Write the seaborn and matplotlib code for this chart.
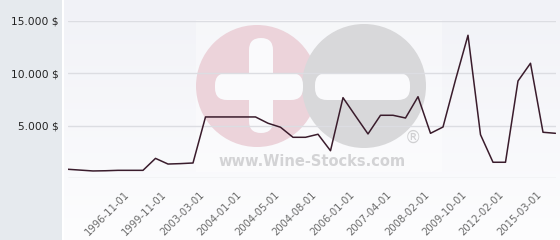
import numpy as np
import pandas as pd
import matplotlib
matplotlib.use("Agg")
import matplotlib.pyplot as plt
import seaborn as sns
from matplotlib.patches import Circle, FancyBboxPatch, Rectangle
from matplotlib.transforms import Affine2D, ScaledTranslation
from matplotlib.ticker import FuncFormatter
from matplotlib.colors import LinearSegmentedColormap

# ---- data ----
prices = [860, 780, 700, 720, 760, 760, 760, 1900, 1360, 1400,
          1460, 5850, 5850, 5850, 5850, 5850, 5250, 4870, 3910, 3910,
          4200, 2630, 7690, 5950, 4230, 6010, 6010, 5750, 7780, 4290,
          4890, 9380, 13640, 4160, 1530, 1530, 9280, 10970, 4390, 4290]
tick_positions = [4, 7, 10, 13, 16, 19, 22, 25, 28, 31, 34, 37]
tick_labels = ["1996-11-01", "1999-11-01", "2003-03-01", "2004-01-01",
               "2004-05-01", "2004-08-01", "2006-01-01", "2007-04-01",
               "2008-02-01", "2009-10-01", "2012-02-01", "2015-03-01"]
y_ticks = [0, 5000, 10000, 15000]

df = pd.DataFrame({"idx": np.arange(len(prices)), "price": prices})

sns.set_theme(style="white")
plt.rcParams["font.family"] = ["DejaVu Sans"]

W, H = 560, 240
fig = plt.figure(figsize=(W / 100, H / 100), dpi=100)
fig.patch.set_facecolor("#f4f5f9")

# pixel transform (y measured from top)
px = Affine2D().scale(1, -1).translate(0, H)

# background gradient for chart region
bg = fig.add_axes([63 / W, 0, 1 - 63 / W, 1], zorder=-3)
grad = np.linspace(0, 1, 256).reshape(-1, 1)
cm = LinearSegmentedColormap.from_list("g", ["#f1f2f7", "#fdfdfe"])
bg.imshow(grad, aspect="auto", cmap=cm, extent=[0, 1, 0, 1], origin="upper")
bg.set_axis_off()

# left grey panel
fig.add_artist(Rectangle((0, 0), 62, H, transform=px, facecolor="#e6eaee",
                         edgecolor="none", zorder=-2))
fig.add_artist(Rectangle((62, 0), 1.5, H, transform=px, facecolor="#ffffff",
                         edgecolor="none", zorder=-2))

# watermark
fig.add_artist(Rectangle((196, 20), 246, 152, transform=px, facecolor="#ffffff",
                         alpha=0.35, edgecolor="none", zorder=-2))
fig.add_artist(Circle((257, 86), 61, transform=px, facecolor="#ecd3da",
                      edgecolor="none", zorder=-1))
fig.add_artist(Circle((364, 86), 62, transform=px, facecolor="#d8d8da",
                      edgecolor="none", zorder=-1))
for (x0, y0, w, h) in [(249, 38, 24, 95), (215, 73, 88, 27), (315, 73, 95, 27)]:
    fig.add_artist(FancyBboxPatch((x0, y0), w, h,
                                  boxstyle="round,pad=0,rounding_size=12",
                                  transform=px, facecolor="#fafafc",
                                  edgecolor="none", zorder=-1))
fig.text(312 / W, 1 - 161 / H, "www.Wine-Stocks.com", ha="center", va="center",
         fontsize=10.5, fontweight="bold", color="#d3d3d5", zorder=-1)
fig.text(413 / W, 1 - 138 / H, "®", ha="center", va="center",
         fontsize=12, color="#d0d0d2", zorder=-1)

# main axes
ax_left, ax_right = 68 / W, 555.5 / W
ax_bottom, ax_top = 1 - 178.3 / H, 1 - 21 / H
ax = fig.add_axes([ax_left, ax_bottom, ax_right - ax_left, ax_top - ax_bottom], zorder=1)
ax.set_facecolor("none")

sns.lineplot(data=df, x="idx", y="price", ax=ax, color="#3a1c2c", linewidth=1.1)

ax.set_xlim(0, len(prices) - 1)
ax.set_ylim(0, 15000)
ax.set_yticks(y_ticks)
ax.yaxis.set_major_formatter(FuncFormatter(
    lambda v, p: "" if v == 0 else f"{int(v):,} $".replace(",", ".")))
ax.grid(axis="y", color="#dcdde2", linewidth=1)
ax.grid(axis="x", visible=False)
for s in ax.spines.values():
    s.set_visible(False)
ax.set_xticks(tick_positions)
ax.set_xticklabels(tick_labels, rotation=45, ha="right", rotation_mode="anchor")
ax.tick_params(axis="x", length=0, pad=8, labelsize=7.2, labelcolor="#6a6a6a")
ax.tick_params(axis="y", length=0, pad=7, labelsize=7.7, labelcolor="#222222")
for lab in ax.get_xticklabels():
    lab.set_transform(lab.get_transform() + ScaledTranslation(6 / 100, 0, fig.dpi_scale_trans))
ax.set_xlabel("")
ax.set_ylabel("")

fig.savefig("out.png", dpi=100)
